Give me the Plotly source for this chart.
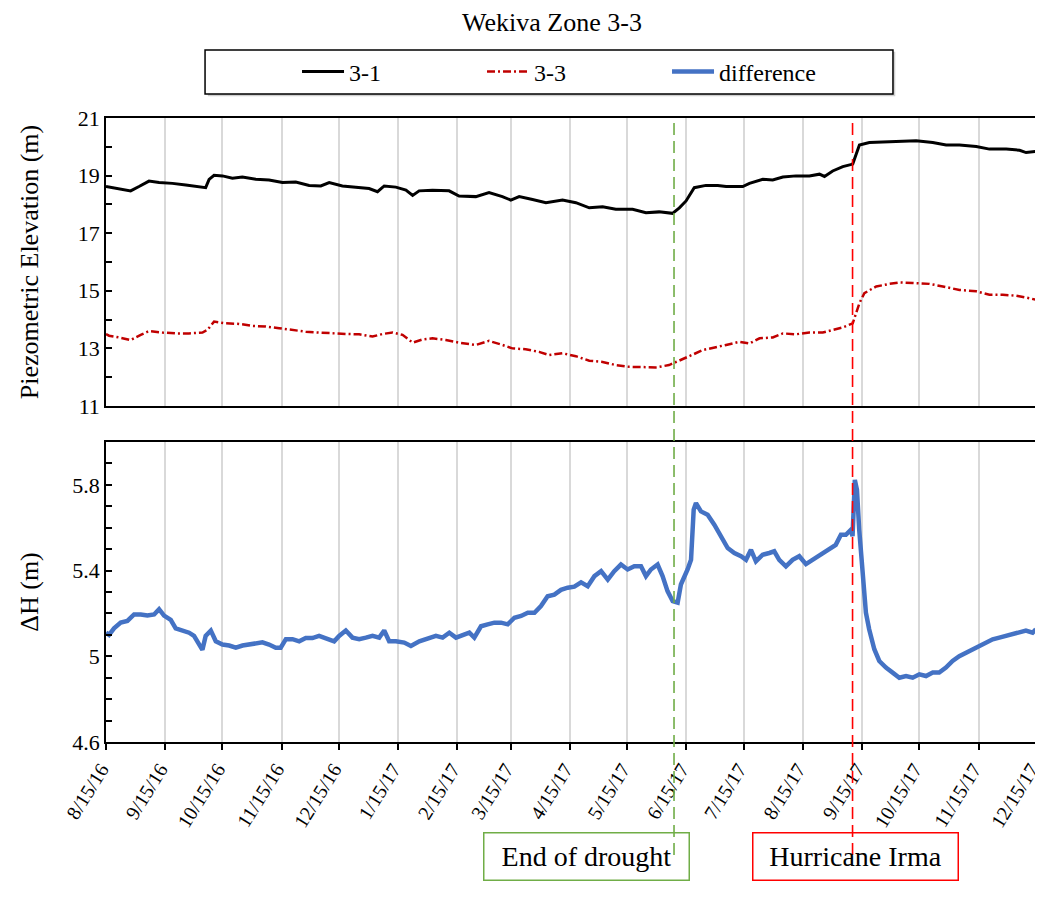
import pandas as pd
import plotly.graph_objects as go

# ---------------- data ----------------
START = "2016-08-15"
END = "2017-12-15 02:00"

# well 3-1, days since START / piezometric elevation (m)
w31_days = [0, 1.6, 6.8, 12.9, 17.3, 22.5, 27.8, 34.8, 41.8, 48.7, 52.2, 54.0, 56.6, 61.0, 66.2,
            71.4, 78.5, 85.4, 92.4, 99.4, 106.4, 112.5, 116.9, 123.8, 130.9, 137.8, 142.2, 145.7,
            151.8, 157.1, 160.6, 164.0, 171.0, 179.7, 184.9, 193.7, 200.6, 207.6, 212.0, 216.4,
            223.4, 230.4, 239.1, 246.1, 253.1, 260.1, 267.0, 275.8, 282.8, 289.7, 296.7, 300.3,
            303.8, 308.1, 314.2, 320.4, 324.8, 333.5, 337.0, 344.0, 349.2, 354.5, 361.4, 368.4,
            373.7, 376.3, 380.6, 385.9, 391.1, 392.5, 394.6, 399.8, 408.6, 415.6, 424.3, 433.0,
            440.0, 447.0, 455.8, 462.7, 471.5, 478.5, 481.9, 487.0]
w31_elev = [18.62, 18.60, 18.56, 18.47, 18.62, 18.81, 18.76, 18.73, 18.67, 18.62, 18.58, 18.87, 19.01,
            18.99, 18.91, 18.95, 18.87, 18.85, 18.76, 18.78, 18.66, 18.64, 18.76, 18.64, 18.60, 18.55,
            18.44, 18.64, 18.60, 18.50, 18.31, 18.47, 18.49, 18.47, 18.29, 18.27, 18.41, 18.27, 18.15,
            18.27, 18.17, 18.06, 18.15, 18.06, 17.88, 17.92, 17.83, 17.83, 17.71, 17.74, 17.69, 17.88,
            18.12, 18.58, 18.66, 18.66, 18.62, 18.62, 18.73, 18.87, 18.85, 18.95, 18.99, 18.99, 19.05,
            18.97, 19.16, 19.31, 19.40, 19.69, 20.06, 20.15, 20.17, 20.21, 20.21, 20.15, 20.06, 20.06,
            20.01, 19.92, 19.92, 19.88, 19.80, 19.84]

# well 3-3
w33_days = [0, 1.6, 6.8, 12.9, 18.2, 22.5, 29.5, 36.5, 43.5, 50.5, 53.1, 56.6, 62.7, 69.7, 76.7,
            83.7, 90.7, 97.7, 104.6, 111.6, 118.6, 125.6, 132.6, 139.6, 144.8, 150.1, 155.3, 160.6,
            165.7, 171.0, 178.0, 184.9, 193.7, 200.6, 207.6, 212.8, 219.8, 226.8, 232.0, 239.1,
            246.1, 253.1, 260.1, 267.0, 274.0, 281.0, 288.0, 294.9, 300.3, 305.5, 312.5, 319.5,
            324.8, 331.8, 337.0, 342.3, 349.2, 354.5, 361.4, 368.4, 375.4, 380.6, 385.9, 391.1,
            392.9, 394.6, 397.2, 403.4, 410.4, 415.6, 422.6, 431.3, 438.3, 447.0, 455.8, 462.7,
            469.7, 476.7, 483.7, 487.0]
w33_elev = [13.50, 13.44, 13.38, 13.29, 13.47, 13.60, 13.55, 13.52, 13.52, 13.55, 13.64, 13.93, 13.87,
            13.85, 13.78, 13.76, 13.70, 13.64, 13.58, 13.55, 13.52, 13.50, 13.49, 13.41, 13.50, 13.55,
            13.47, 13.20, 13.31, 13.35, 13.29, 13.20, 13.12, 13.26, 13.12, 13.00, 12.97, 12.88, 12.77,
            12.83, 12.73, 12.57, 12.53, 12.42, 12.36, 12.36, 12.34, 12.42, 12.59, 12.73, 12.94, 13.03,
            13.12, 13.23, 13.17, 13.35, 13.38, 13.52, 13.49, 13.55, 13.55, 13.64, 13.73, 13.87, 14.22,
            14.57, 14.92, 15.15, 15.24, 15.29, 15.27, 15.24, 15.15, 15.03, 14.98, 14.86, 14.86, 14.83,
            14.74, 14.69]

# head difference
diff_days = [0, 1.6, 4.2, 7.7, 11.2, 14.7, 18.2, 21.7, 25.2, 27.8, 30.4, 33.9, 36.5, 40.0, 43.5,
             46.1, 48.7, 50.5, 52.2, 54.9, 57.5, 61.0, 64.5, 68.0, 71.5, 75.0, 78.4, 81.9, 85.4,
             88.9, 91.5, 94.2, 97.7, 101.2, 104.6, 108.1, 111.6, 115.1, 119.5, 122.1, 125.6, 129.1,
             132.6, 136.1, 139.6, 143.1, 145.7, 148.3, 151.8, 156.2, 159.7, 164.1, 168.4, 172.8,
             176.3, 179.8, 183.3, 186.8, 190.3, 192.9, 196.4, 199.9, 203.4, 206.9, 210.4, 213.9,
             217.4, 220.9, 224.4, 227.8, 231.3, 234.8, 238.3, 241.8, 245.3, 248.8, 252.3, 255.8,
             259.3, 262.8, 266.2, 269.7, 273.2, 276.7, 280.2, 282.8, 285.4, 288.9, 291.5, 294.1,
             296.8, 299.4, 301.1, 304.6, 306.4, 307.8, 309.0, 311.6, 315.1, 318.6, 322.1, 325.6,
             329.1, 332.6, 335.2, 337.8, 340.4, 343.9, 347.4, 350.0, 352.6, 356.1, 359.6, 363.1,
             366.6, 370.0, 375.3, 378.8, 382.2, 384.9, 387.5, 390.1, 391.0, 392.2, 393.3, 394.5,
             396.2, 398.0, 399.7, 402.4, 405.0, 408.5, 412.0, 415.5, 419.0, 422.5, 426.0, 429.5,
             433.0, 436.4, 439.9, 443.4, 446.9, 450.4, 453.9, 457.4, 460.9, 464.4, 467.9, 471.4,
             474.8, 478.3, 481.8, 485.3, 487.0]
diff_vals = [5.11, 5.10, 5.13, 5.157, 5.165, 5.195, 5.195, 5.19, 5.195, 5.22, 5.19, 5.17, 5.13,
             5.12, 5.11, 5.095, 5.05, 5.03, 5.095, 5.12, 5.07, 5.055, 5.05, 5.04, 5.05, 5.055,
             5.055, 5.065, 5.055, 5.04, 5.04, 5.08, 5.08, 5.07, 5.085, 5.085, 5.095, 5.085, 5.07,
             5.095, 5.12, 5.087, 5.08, 5.087, 5.095, 5.087, 5.12, 5.07, 5.07, 5.064, 5.048, 5.07,
             5.08, 5.095, 5.087, 5.11, 5.087, 5.10, 5.11, 5.087, 5.14, 5.149, 5.157, 5.157, 5.149,
             5.18, 5.188, 5.203, 5.203, 5.234, 5.28, 5.288, 5.31, 5.32, 5.325, 5.345, 5.327, 5.374,
             5.397, 5.358, 5.397, 5.428, 5.405, 5.42, 5.42, 5.374, 5.405, 5.428, 5.374, 5.304,
             5.257, 5.25, 5.335, 5.405, 5.45, 5.684, 5.715, 5.676, 5.66, 5.614, 5.56, 5.505,
             5.482, 5.467, 5.45, 5.497, 5.443, 5.474, 5.482, 5.49, 5.45, 5.42, 5.45, 5.467,
             5.43, 5.45, 5.482, 5.497, 5.52, 5.567, 5.567, 5.59, 5.56, 5.823, 5.777, 5.59,
             5.374, 5.203, 5.126, 5.033, 4.978, 4.947, 4.924, 4.90, 4.908, 4.90, 4.916, 4.908,
             4.924, 4.924, 4.947, 4.978, 5.0, 5.017, 5.033, 5.048, 5.064, 5.079, 5.087, 5.095,
             5.10, 5.11, 5.12, 5.11, 5.126]

tick_dates = ["2016-08-15", "2016-09-15", "2016-10-15", "2016-11-15", "2016-12-15",
              "2017-01-15", "2017-02-15", "2017-03-15", "2017-04-15", "2017-05-15",
              "2017-06-15", "2017-07-15", "2017-08-15", "2017-09-15", "2017-10-15",
              "2017-11-15", "2017-12-15"]
tick_labels = ["8/15/16", "9/15/16", "10/15/16", "11/15/16", "12/15/16", "1/15/17", "2/15/17",
               "3/15/17", "4/15/17", "5/15/17", "6/15/17", "7/15/17", "8/15/17", "9/15/17",
               "10/15/17", "11/15/17", "12/15/17"]

event_dates = ["2017-06-08 12:00", "2017-09-10"]
event_labels = ["End of drought", "Hurricane Irma"]
event_colors = ["#70ad47", "#ff0000"]


def to_dates(days):
    return pd.Timestamp(START) + pd.to_timedelta(days, unit="D")


FONT = "Liberation Serif, Times New Roman, serif"

fig = go.Figure()
fig.add_trace(go.Scatter(x=to_dates(w31_days), y=w31_elev, name="3-1", mode="lines",
                         line=dict(color="black", width=3), xaxis="x", yaxis="y"))
fig.add_trace(go.Scatter(x=to_dates(w33_days), y=w33_elev, name="3-3", mode="lines",
                         line=dict(color="#c00000", width=2.5, dash="8px,3px,2px,3px"),
                         xaxis="x", yaxis="y"))
fig.add_trace(go.Scatter(x=to_dates(diff_days), y=diff_vals, name="difference", mode="lines",
                         line=dict(color="#4472c4", width=4.5), xaxis="x2", yaxis="y2"))

common_x = dict(range=[START, END], tickvals=tick_dates, showgrid=True, gridcolor="#d9d9d9",
                gridwidth=2, showline=True, mirror=True, linecolor="black", linewidth=1.5,
                zeroline=False)

# the page body adds an 8px offset, so the figure is 8px smaller than the window
fig.update_layout(
    width=1035, height=904,
    margin=dict(l=98, r=7, t=110, b=170, autoexpand=False),
    paper_bgcolor="white", plot_bgcolor="white",
    font=dict(family=FONT, size=22, color="black"),
    title=dict(text="Wekiva Zone 3-3", x=0.4796, xref="paper", xanchor="center",
               y=1 - 14 / 904, yref="container", yanchor="middle",
               font=dict(family=FONT, size=26, color="black")),
    xaxis=dict(domain=[0, 1], anchor="y", showticklabels=False, ticks="", **common_x),
    xaxis2=dict(domain=[0, 1], anchor="y2", ticktext=tick_labels, tickangle=-58,
                ticks="outside", ticklen=6, tickcolor="black", tickwidth=1.5,
                ticklabeloverflow="allow", ticklabelshift=-5,
                tickfont=dict(family=FONT, size=20), **common_x),
    yaxis=dict(domain=[0.5385, 1], anchor="x", range=[11, 21], tick0=11, dtick=2,
               ticks="inside", ticklen=6, tickcolor="black", tickwidth=1.5,
               tickfont=dict(family=FONT, size=22),
               minor=dict(tick0=11, dtick=1, ticks="inside", ticklen=6, tickcolor="black",
                          tickwidth=1.5, showgrid=False),
               showgrid=False, showline=True, mirror=True, linecolor="black", linewidth=1.5,
               zeroline=False,
               title=dict(text="Piezometric Elevation (m)", standoff=32,
                          font=dict(family=FONT, size=26))),
    yaxis2=dict(domain=[0, 0.4808], anchor="x2", range=[4.6, 6.0], tick0=4.6, dtick=0.4,
                ticks="inside", ticklen=6, tickcolor="black", tickwidth=1.5,
                tickfont=dict(family=FONT, size=22),
                minor=dict(tick0=4.6, dtick=0.1, ticks="inside", ticklen=6, tickcolor="black",
                           tickwidth=1.5, showgrid=False),
                showgrid=False, showline=True, mirror=True, linecolor="black", linewidth=1.5,
                zeroline=False,
                title=dict(text="ΔH (m)", standoff=26, font=dict(family=FONT, size=26))),
    showlegend=True,
    legend=dict(orientation="h", x=0.2054, xanchor="left", y=1.074, yanchor="middle",
                bgcolor="rgba(0,0,0,0)", borderwidth=0, entrywidth=128, itemwidth=42,
                font=dict(family=FONT, size=24, color="black")),
)

# legend frame with a light shadow
fig.add_shape(type="rect", xref="paper", yref="paper", x0=0.1095, x1=0.8487, y0=1.035, y1=1.106,
              line=dict(width=0), fillcolor="#cfcfcf", layer="above")
fig.add_shape(type="rect", xref="paper", yref="paper", x0=0.1065, x1=0.8462, y0=1.0385, y1=1.109,
              line=dict(color="black", width=1.5), fillcolor="white", layer="above")

# event lines and labels
shifts = [-88, 3]
for d, lab, col, sh in zip(event_dates, event_labels, event_colors, shifts):
    fig.add_shape(type="line", xref="x", yref="paper", x0=d, x1=d, y0=-0.181, y1=1.0,
                  line=dict(color=col, width=1.6, dash="12px,6px"), layer="above")
    fig.add_annotation(x=d, xref="x", y=-0.184, yref="paper", xshift=sh, text=lab,
                       xanchor="center", yanchor="middle",
                       showarrow=False, width=202, height=44, borderpad=1,
                       bordercolor=col, borderwidth=1.5, bgcolor="rgba(0,0,0,0)",
                       font=dict(family=FONT, size=28, color="black"))

fig.write_html("out.html")
